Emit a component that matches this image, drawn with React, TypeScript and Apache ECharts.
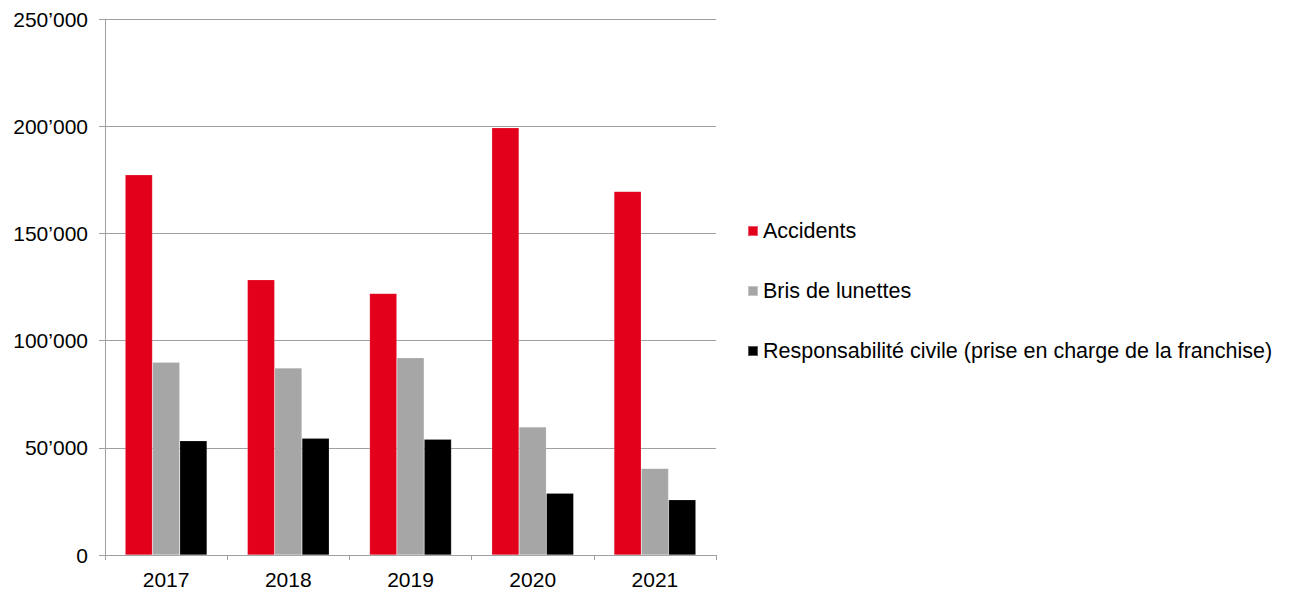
import React, { useEffect, useRef } from "react";
import * as echarts from "echarts";

const categories = ["2017", "2018", "2019", "2020", "2021"];
const accidents = [177300, 128400, 122000, 199300, 169600];
const brisDeLunettes = [89900, 87200, 92000, 59700, 40400];
const responsabiliteCivile = [53300, 54400, 54000, 28800, 25800];
const seriesNames = [
  "Accidents",
  "Bris de lunettes",
  "Responsabilité civile (prise en charge de la franchise)",
];
const colors = ["#E2001A", "#A6A6A6", "#000000"];

const fmt = (v: number) =>
  String(v).replace(/\B(?=(\d{3})+(?!\d))/g, "\u2019");

export default function App() {
  const ref = useRef<HTMLDivElement>(null);
  useEffect(() => {
    document.body.style.margin = "0";
    if (!ref.current) return;
    const chart = echarts.init(ref.current, undefined, { renderer: "svg" });
    const font = "Liberation Sans, Arial, sans-serif";
    const data = [accidents, brisDeLunettes, responsabiliteCivile];
    chart.setOption({
      animation: false,
      backgroundColor: "#ffffff",
      textStyle: { fontFamily: font },
      grid: { left: 105, top: 19, right: 575, bottom: 37, containLabel: false },
      legend: {
        orient: "vertical",
        left: 747,
        top: 220,
        padding: 0,
        icon: "rect",
        itemWidth: 10,
        itemHeight: 10,
        itemGap: 38,
        textStyle: { fontSize: 21.5, color: "#000", fontFamily: font },
        data: seriesNames,
      },
      xAxis: {
        type: "category",
        data: categories,
        axisLine: { show: true, lineStyle: { color: "#A0A0A0", width: 1 } },
        axisTick: { show: true, length: 5, lineStyle: { color: "#A0A0A0" } },
        axisLabel: { fontSize: 21, color: "#000", margin: 14, fontFamily: font },
      },
      yAxis: {
        type: "value",
        min: 0,
        max: 250000,
        interval: 50000,
        axisLine: { show: true, lineStyle: { color: "#A0A0A0", width: 1 } },
        axisTick: { show: true, length: 6, lineStyle: { color: "#A0A0A0" } },
        splitLine: { show: true, lineStyle: { color: "#A0A0A0", width: 1 } },
        axisLabel: {
          fontSize: 21,
          color: "#000",
          margin: 17,
          fontFamily: font,
          formatter: (v: number) => fmt(v),
        },
      },
      series: seriesNames.map((name, i) => ({
        name,
        type: "bar",
        data: data[i],
        barGap: "0%",
        barCategoryGap: "33%",
        itemStyle: { color: colors[i], borderColor: "rgba(255,255,255,0.35)", borderWidth: 0.5 },
      })),
    });
    return () => chart.dispose();
  }, []);
  return <div ref={ref} style={{ width: 1291, height: 592 }} />;
}
